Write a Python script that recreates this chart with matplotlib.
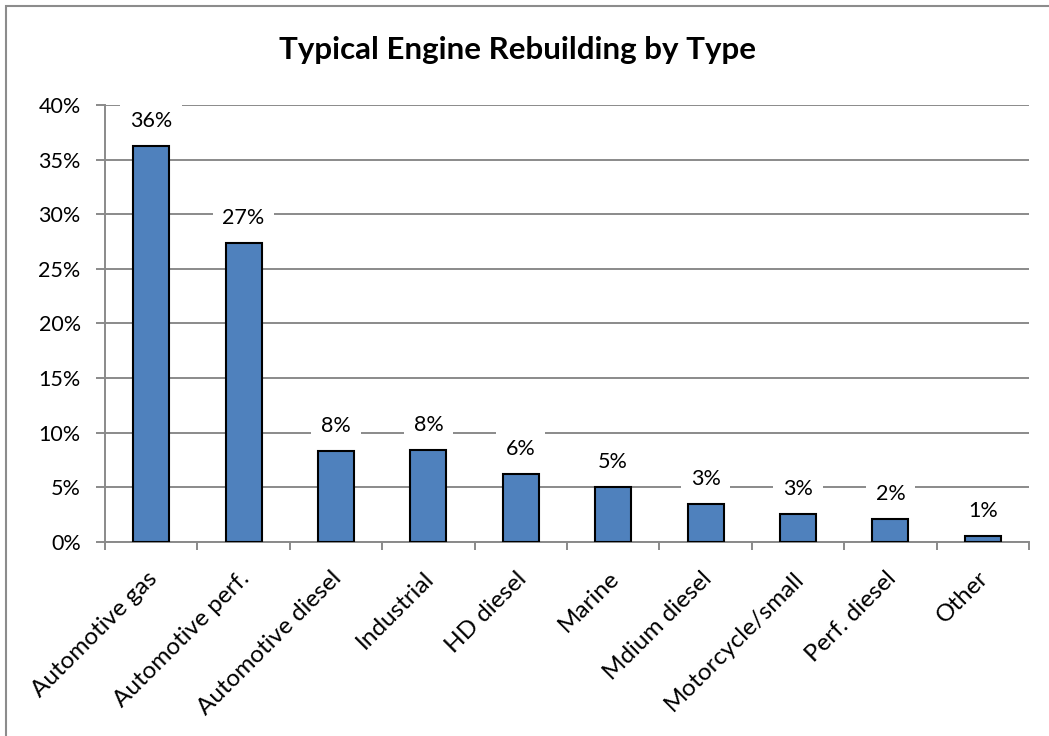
import matplotlib
matplotlib.use("Agg")
import matplotlib.pyplot as plt
from matplotlib.patches import Rectangle
from matplotlib.ticker import PercentFormatter, FixedLocator

categories = ["Automotive gas", "Automotive perf.", "Automotive diesel", "Industrial",
              "HD diesel", "Marine", "Mdium diesel", "Motorcycle/small",
              "Perf. diesel", "Other"]
shares = [36.2, 27.4, 8.33, 8.43, 6.23, 5.0, 3.45, 2.54, 2.05, 0.55]
y_ticks = [0, 5, 10, 15, 20, 25, 30, 35, 40]

plt.rcParams["font.family"] = ["Lato", "DejaVu Sans"]

W, H = 1049, 736
fig = plt.figure(figsize=(W / 100, H / 100), dpi=100)
fig.patch.set_facecolor("white")

# chart border (open on the right and bottom edges)
fig.patches.append(Rectangle((6 / W, -0.05), 1.1, (H - 6) / H + 0.05,
                             transform=fig.transFigure, fill=False,
                             edgecolor="#8c8c8c", linewidth=1.5))

ax = fig.add_axes([105 / W, 1 - 541.7 / H, (1029 - 105) / W, (541.7 - 105) / H])

grey = "#8a8a8a"
FS = 15.5
x = list(range(len(categories)))
ax.bar(x, shares, width=0.39, color="#4F81BD", edgecolor="black", linewidth=1.5, zorder=3)

ax.set_xlim(-0.5, len(categories) - 0.5)
ax.set_ylim(0, 40)
ax.yaxis.set_major_locator(FixedLocator(y_ticks))
ax.yaxis.set_major_formatter(PercentFormatter(decimals=0))
ax.yaxis.grid(True, color=grey, linewidth=1.4, zorder=1)
ax.set_axisbelow(True)

for side in ("top", "right"):
    ax.spines[side].set_visible(False)
for side in ("left", "bottom"):
    ax.spines[side].set_color(grey)
    ax.spines[side].set_linewidth(1.4)

# category ticks sit on the boundaries between bars
ax.set_xticks([i - 0.5 for i in range(len(categories) + 1)])
ax.set_xticklabels([])
ax.tick_params(axis="x", length=6, width=1.4, color=grey, direction="out")
ax.tick_params(axis="y", length=6.5, width=1.4, color=grey, direction="out",
               labelsize=FS, labelcolor="black", pad=11)

# rotated category names below the axis
for xi, name in zip(x, categories):
    ax.annotate(name, (xi, 0), xycoords=("data", "axes fraction"),
                xytext=(-5, -26), textcoords="offset pixels",
                rotation=45, rotation_mode="anchor", ha="right", va="top",
                fontsize=17.5, color="black")

# value labels on white boxes above each bar
for xi, v in zip(x, shares):
    ax.annotate(f"{v:.0f}%", (xi, v), xytext=(0, 15), textcoords="offset pixels",
                ha="center", va="bottom", fontsize=FS, color="black", zorder=4,
                bbox=dict(boxstyle="square,pad=0.45", facecolor="white", edgecolor="none"))

fig.text(0.493, 1 - 50 / H, "Typical Engine Rebuilding by Type", ha="center", va="center",
         fontsize=22.5, fontweight="bold", color="black")

fig.savefig("out.png", dpi=100, facecolor="white")
